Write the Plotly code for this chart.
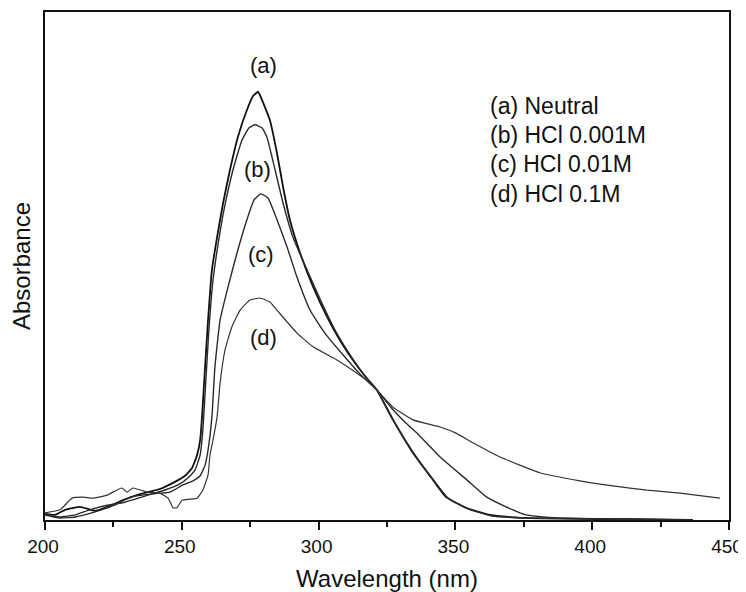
"""UV-vis absorbance spectra at different HCl concentrations."""

import plotly.graph_objects as go

# (a) Neutral
wl_a = [200.0, 203.7, 207.3, 212.8, 218.3, 223.8, 228.5, 234.7, 242.0, 247.5,
        251.2, 253.7, 255.6, 256.7, 257.4, 258.5, 259.6, 261.0, 262.9, 265.1,
        267.6, 270.5, 273.8, 276.1, 277.9, 278.7, 282.2, 284.8, 287.0, 289.5,
        293.2, 298.0, 303.1, 307.8, 313.3, 318.1, 321.3, 327.2, 334.5, 341.8,
        346.6, 353.9, 362.6, 374.7, 402.9, 436.8]
abs_a = [0.012, 0.010, 0.020, 0.026, 0.018, 0.028, 0.039, 0.051, 0.061, 0.075,
         0.087, 0.102, 0.128, 0.157, 0.203, 0.301, 0.394, 0.492, 0.557, 0.624,
         0.689, 0.754, 0.807, 0.835, 0.843, 0.835, 0.787, 0.722, 0.656, 0.591,
         0.526, 0.459, 0.400, 0.354, 0.309, 0.276, 0.256, 0.197, 0.132, 0.079,
         0.045, 0.024, 0.010, 0.004, 0.002, 0.000]

# (b) HCl 0.001M
wl_b = [201.8, 205.5, 211.0, 216.4, 221.9, 229.2, 236.5, 243.9, 249.3, 252.3,
        254.8, 256.7, 257.7, 258.8, 259.9, 261.4, 263.2, 265.4, 268.7, 272.0,
        274.6, 276.8, 279.3, 281.1, 284.1, 287.0, 290.6, 295.8, 301.2, 306.0,
        311.5, 317.0, 321.3, 327.9, 335.2, 342.5, 347.3, 354.6, 363.4, 375.4,
        402.9, 436.8]
abs_b = [0.008, 0.006, 0.010, 0.020, 0.028, 0.035, 0.047, 0.059, 0.071, 0.083,
         0.098, 0.128, 0.177, 0.276, 0.374, 0.472, 0.541, 0.610, 0.689, 0.748,
         0.772, 0.778, 0.772, 0.754, 0.689, 0.624, 0.557, 0.492, 0.427, 0.374,
         0.325, 0.283, 0.256, 0.191, 0.128, 0.075, 0.043, 0.022, 0.008, 0.004,
         0.002, 0.000]

# (c) HCl 0.01M
wl_c = [200.0, 205.5, 211.0, 218.3, 225.6, 231.1, 238.4, 245.7, 250.4, 254.1,
        256.7, 258.5, 259.6, 261.0, 262.1, 264.0, 266.9, 270.2, 273.8, 276.4,
        278.9, 281.5, 284.8, 288.5, 292.1, 296.9, 302.3, 309.6, 315.9, 321.3,
        327.2, 331.9, 336.0, 344.4, 354.2, 361.5, 368.5, 375.8, 386.8, 410.2,
        436.8]
abs_c = [0.010, 0.004, 0.006, 0.016, 0.030, 0.045, 0.051, 0.055, 0.069, 0.077,
         0.087, 0.108, 0.138, 0.203, 0.301, 0.394, 0.459, 0.526, 0.591, 0.630,
         0.642, 0.634, 0.591, 0.537, 0.478, 0.413, 0.368, 0.321, 0.283, 0.256,
         0.217, 0.191, 0.171, 0.124, 0.079, 0.045, 0.026, 0.010, 0.004, 0.002,
         0.000]

# (d) HCl 0.1M
wl_d = [200.0, 205.5, 209.9, 213.9, 217.5, 222.7, 228.1, 230.0, 232.2, 237.3,
        242.0, 245.0, 246.8, 248.2, 250.1, 253.0, 255.6, 257.7, 259.6, 260.3,
        261.4, 262.9, 264.0, 265.8, 268.3, 271.3, 274.9, 278.6, 282.2, 284.8,
        292.1, 298.0, 306.7, 314.0, 318.8, 321.3, 327.2, 334.5, 344.4, 350.2,
        356.4, 366.3, 380.9, 395.5, 407.6, 420.0, 432.1, 446.7]
abs_d = [0.014, 0.020, 0.043, 0.045, 0.043, 0.049, 0.063, 0.055, 0.063, 0.055,
         0.053, 0.043, 0.024, 0.024, 0.039, 0.041, 0.043, 0.059, 0.089, 0.128,
         0.157, 0.203, 0.270, 0.335, 0.380, 0.413, 0.433, 0.437, 0.429, 0.413,
         0.368, 0.341, 0.315, 0.289, 0.270, 0.256, 0.222, 0.197, 0.183, 0.171,
         0.152, 0.124, 0.093, 0.077, 0.067, 0.059, 0.053, 0.043]

curve_labels = ["(a)", "(b)", "(c)", "(d)"]
label_wl = [279.7, 277.5, 279.0, 279.7]
label_abs = [0.894, 0.689, 0.522, 0.360]

legend_lines = ["(a) Neutral", "(b) HCl 0.001M", "(c) HCl 0.01M", "(d) HCl 0.1M"]
legend_abs = [0.815, 0.757, 0.700, 0.642]

FONT = "Liberation Sans, Arial, sans-serif"

fig = go.Figure()

series = [
    (wl_a, abs_a, 1.8, "#111111"),
    (wl_b, abs_b, 1.4, "#2a2a2a"),
    (wl_c, abs_c, 1.4, "#2a2a2a"),
    (wl_d, abs_d, 1.2, "#333333"),
]
for wl, ab, width, color in series:
    fig.add_trace(
        go.Scatter(
            x=wl,
            y=ab,
            mode="lines",
            line=dict(color=color, width=width, shape="spline", smoothing=0.4),
            showlegend=False,
        )
    )

for text, x, y in zip(curve_labels, label_wl, label_abs):
    fig.add_annotation(x=x, y=y, text=text, showarrow=False,
                       font=dict(family=FONT, size=22, color="#111"))

for text, y in zip(legend_lines, legend_abs):
    fig.add_annotation(x=361.9, y=y, text=text, showarrow=False,
                       xanchor="left", font=dict(family=FONT, size=23, color="#111"))

# the page body adds an 8px offset, so the figure is 8px smaller each way
fig.update_layout(
    width=738,
    height=584,
    margin=dict(l=37, r=17, t=4, b=72),
    plot_bgcolor="white",
    paper_bgcolor="white",
    font=dict(family=FONT, size=20, color="#111"),
)

fig.update_xaxes(
    range=[200, 450],
    tickvals=[200, 250, 300, 350, 400, 450],
    ticks="outside",
    ticklen=8,
    tickwidth=1.5,
    tickcolor="#111",
    minor=dict(tickvals=[225, 275, 325, 375, 425], ticks="outside",
               ticklen=5, tickwidth=1.5, tickcolor="#111"),
    showline=True,
    linecolor="#111",
    linewidth=2,
    mirror=True,
    showgrid=False,
    zeroline=False,
    automargin=False,
    tickfont=dict(size=19),
    ticklabelshift=-2,
    ticklabeloverflow="allow",
    title=dict(text="Wavelength (nm)", font=dict(size=24), standoff=15),
)

fig.update_yaxes(
    range=[0, 1.0],
    showticklabels=False,
    ticks="",
    showline=True,
    linecolor="#111",
    linewidth=2,
    mirror=True,
    showgrid=False,
    zeroline=False,
    automargin=False,
    title=dict(text="Absorbance", font=dict(size=24), standoff=14),
)

fig.write_html("out.html")
